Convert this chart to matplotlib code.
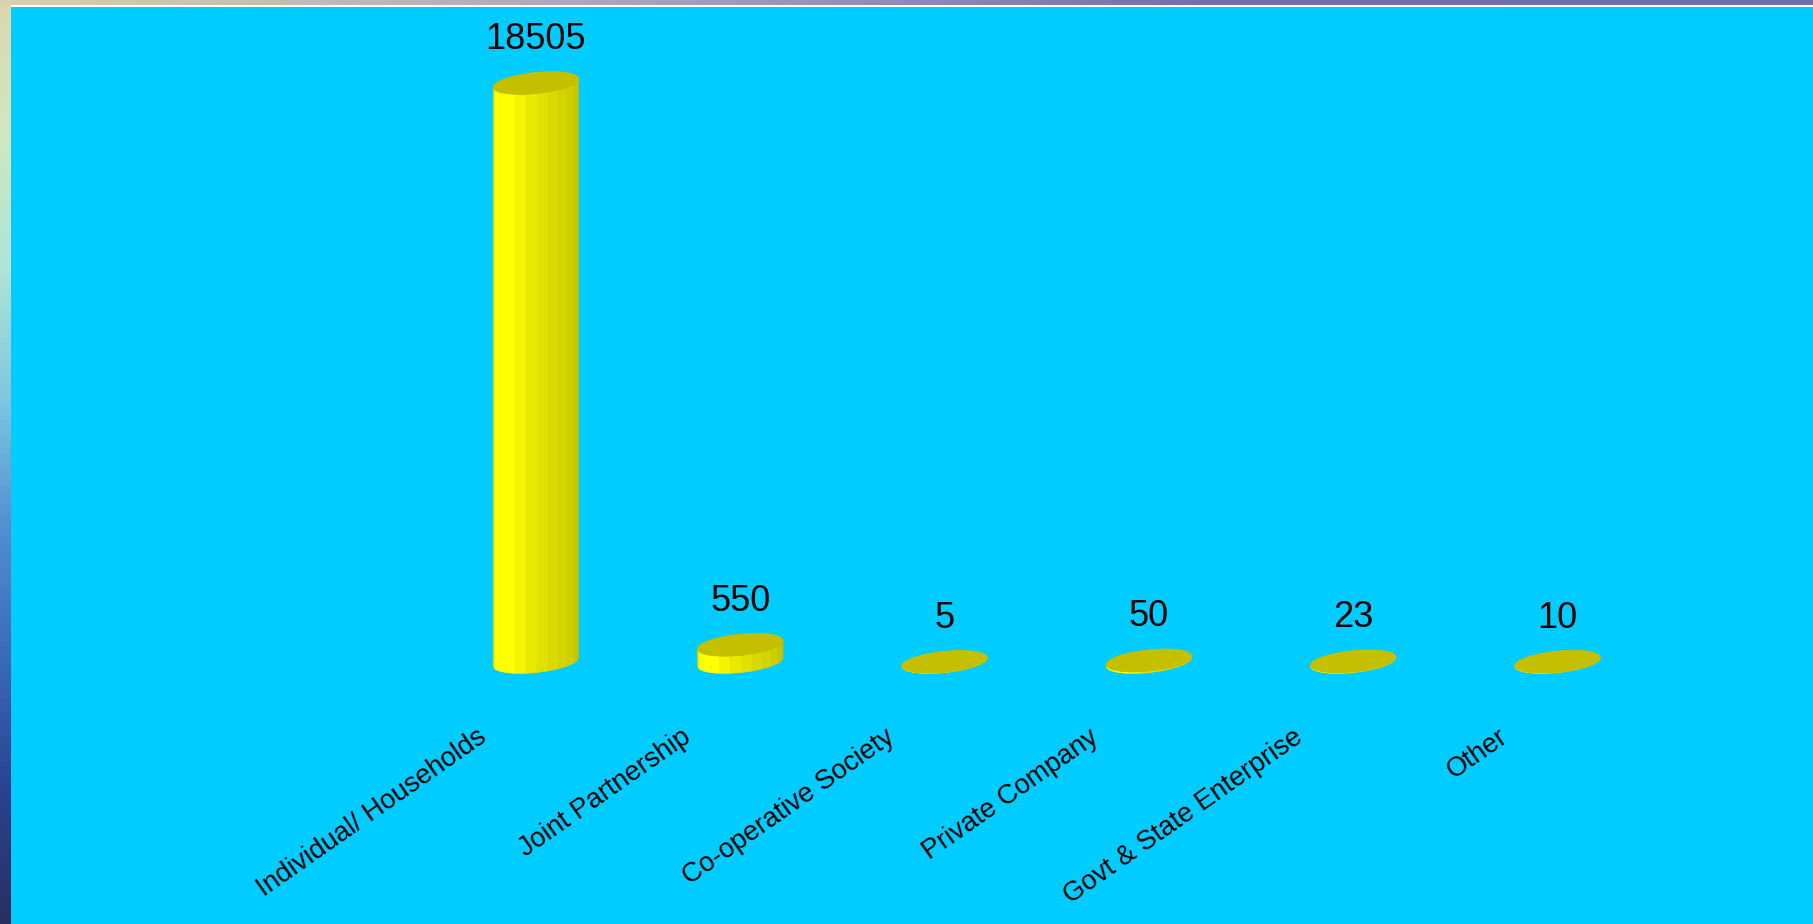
"""3D-style cylinder bar chart: ownership type counts."""
import numpy as np
import matplotlib.pyplot as plt
from matplotlib.patches import Polygon
from matplotlib.transforms import IdentityTransform
from matplotlib.colors import LinearSegmentedColormap

plt.rcParams['font.family'] = ['Liberation Sans', 'DejaVu Sans']

# ---------- data ----------
categories = ["Individual/ Households", "Joint Partnership", "Co-operative Society",
              "Private Company", "Govt & State Enterprise", "Other"]
values = [18505, 550, 5, 50, 23, 10]

# ---------- style ----------
BG = "#00CCFF"
TOP_COLOR = "#C4C000"
BODY_COLORS = ["#E4E400", "#FFFF00", "#FFFF00", "#FFFF00", "#F4F400", "#EAEA00",
               "#E2E200", "#DADA00", "#D4D400", "#CECE00", "#C8C800", "#C0C000"]
W, H, DPI = 1813, 924, 100
SEMI_A, SEMI_C, TILT = 43, 10.5, np.deg2rad(6)


def ellipse_pts(cx, cy, phis):
    x = SEMI_A * np.cos(phis)
    y = SEMI_C * np.sin(phis)
    return np.column_stack([cx + x * np.cos(TILT) - y * np.sin(TILT),
                            cy + x * np.sin(TILT) + y * np.cos(TILT)])


def draw_cylinder(ax, xpos, val):
    (cx, base), = ax.transData.transform([(xpos, 0)])
    (_, top), = ax.transData.transform([(xpos, val)])
    edges = np.linspace(np.pi, 2 * np.pi, len(BODY_COLORS) + 1)
    for k, col in enumerate(BODY_COLORS):
        ph = np.linspace(edges[k], edges[k + 1], 8)
        poly = np.vstack([ellipse_pts(cx, base, ph), ellipse_pts(cx, top, ph[::-1])])
        ax.add_patch(Polygon(poly, closed=True, facecolor=col, edgecolor=col, lw=0.4,
                             transform=IdentityTransform(), zorder=2))
    cap = ellipse_pts(cx, top, np.linspace(0, 2 * np.pi, 80))
    ax.add_patch(Polygon(cap, closed=True, facecolor=TOP_COLOR, edgecolor=TOP_COLOR,
                         lw=0.6, transform=IdentityTransform(), zorder=3))
    return cx, top


fig = plt.figure(figsize=(W / DPI, H / DPI), dpi=DPI)
fig.patch.set_facecolor(BG)

# decorative slide background: sea strip on the left, gradient band on top
sea = LinearSegmentedColormap.from_list(
    "sea", ["#DCD8B0", "#D0E8C0", "#B0E4D8", "#80C8E0", "#5090D0", "#3A6AB8",
            "#2C4290", "#283060"])
ax_left = fig.add_axes([0, 0, 11 / W, 1])
ax_left.imshow(np.linspace(0, 1, 200)[:, None], aspect="auto", cmap=sea)
ax_left.axis("off")
band = LinearSegmentedColormap.from_list("band", ["#D8D0B0", "#A8A8B8", "#7070B0", "#6870B0"])
ax_top = fig.add_axes([0, 1 - 5 / H, 1, 5 / H])
ax_top.imshow(np.linspace(0, 1, 300)[None, :], aspect="auto", cmap=band)
ax_top.axis("off")
fig.patches.append(plt.Rectangle((11 / W, 1 - 7 / H), 1, 2 / H, transform=fig.transFigure,
                                 facecolor="white", edgecolor="none", zorder=5))

# main axes spans the whole figure, limits chosen to place bars
ax = fig.add_axes([0, 0, 1, 1])
ax.set_facecolor("none")
x0_px, step_px = 536, 204.3
base_px, top_px = H - 662, H - 83
ax.set_xlim(-x0_px / step_px, (W - x0_px) / step_px)
per_px = max(values) / (top_px - base_px)
ax.set_ylim(-base_px * per_px, (H - base_px) * per_px)
ax.axis("off")

for i, (cat, val) in enumerate(zip(categories, values)):
    cx, top = draw_cylinder(ax, i, val)
    ax.annotate(str(val), xy=(i, val), xytext=(0, 26), textcoords="offset pixels",
                ha="center", va="bottom", fontsize=26, color="black", zorder=4)
    ax.annotate(cat, xy=(i, 0), xytext=(-60, -62), textcoords="offset pixels",
                ha="right", va="top", rotation=35, rotation_mode="anchor",
                fontsize=19.5, color="black")

fig.savefig("out.png", dpi=DPI, facecolor=fig.get_facecolor())
